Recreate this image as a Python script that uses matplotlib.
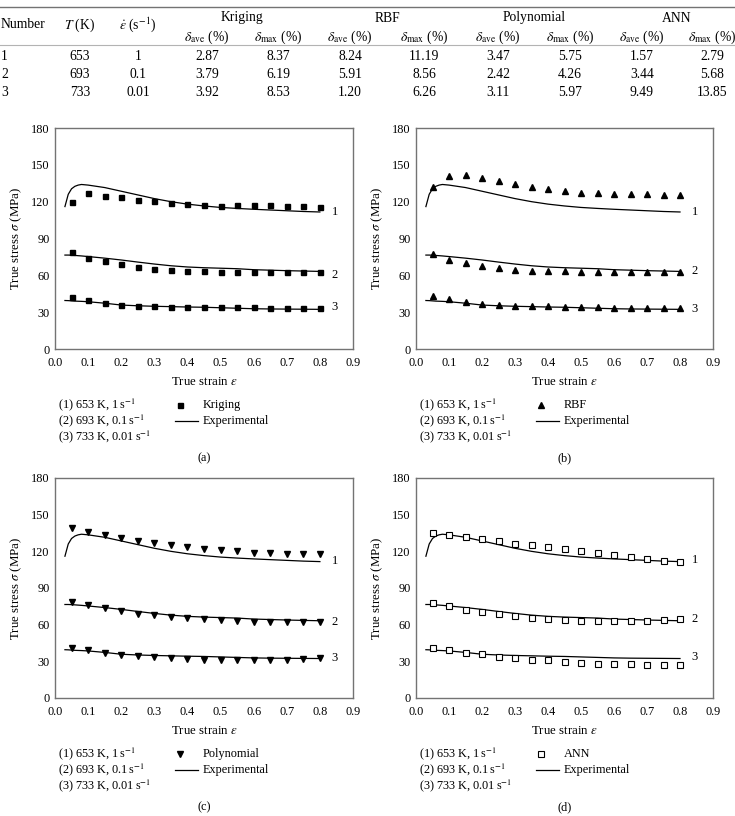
import matplotlib
matplotlib.use("Agg")
import matplotlib.pyplot as plt
from matplotlib.lines import Line2D
import numpy as np

plt.rcParams['font.family'] = ['Liberation Serif', 'DejaVu Serif']
plt.rcParams['mathtext.fontset'] = 'stix'

W, H = 735, 816

# ---- table data ----
numbers = ["1", "2", "3"]
temps = ["653", "693", "733"]
rates = ["1", "0.1", "0.01"]
methods = ["Kriging", "RBF", "Polynomial", "ANN"]
err_ave = [["2.87", "3.79", "3.92"],
           ["8.24", "5.91", "1.20"],
           ["3.47", "2.42", "3.11"],
           ["1.57", "3.44", "9.49"]]
err_max = [["8.37", "6.19", "8.53"],
           ["11.19", "8.56", "6.26"],
           ["5.75", "4.26", "5.97"],
           ["2.79", "5.68", "13.85"]]

# ---- experimental flow curves ----
strain_exp = [0.03, 0.04, 0.05, 0.06, 0.07, 0.08, 0.10, 0.15, 0.20, 0.25, 0.30,
              0.35, 0.40, 0.45, 0.50, 0.55, 0.60, 0.65, 0.70, 0.75, 0.80]
exp_1 = [116, 126, 130.5, 132.5, 133.5, 134, 133.5, 131.5, 128.5, 125.5, 122.5,
         120, 118, 116.5, 115.3, 114.5, 113.8, 113.2, 112.6, 112, 111.6]
exp_2 = [76.5, 76.5, 76.4, 76.2, 76.0, 75.8, 75.3, 74, 72.5, 70.8, 69.2,
         67.8, 66.8, 66.2, 65.8, 65.4, 64.6, 64.2, 63.8, 63.5, 63.2]
exp_3 = [39.5, 39.4, 39.2, 39.0, 38.9, 38.8, 38.5, 37.3, 35.8, 35.2, 34.8,
         34.5, 34.2, 34.0, 33.6, 33.2, 32.8, 32.6, 32.5, 32.4, 32.3]

# ---- predicted points ----
strain_pred = [0.05, 0.10, 0.15, 0.20, 0.25, 0.30, 0.35, 0.40,
               0.45, 0.50, 0.55, 0.60, 0.65, 0.70, 0.75, 0.80]
kriging_1 = [119.5, 127.3, 124.4, 123.5, 121.6, 120.3, 119.2, 118.1,
             117.6, 116.8, 117.3, 117.3, 117.0, 116.8, 116.2, 115.7]
kriging_2 = [78.7, 74.4, 71.4, 69.0, 66.5, 65.4, 64.3, 63.8,
             63.3, 62.7, 62.6, 62.5, 62.5, 62.5, 62.5, 62.5]
kriging_3 = [42.0, 39.6, 37.5, 36.1, 35.0, 34.8, 34.5, 34.5,
             34.2, 34.2, 33.9, 33.9, 33.7, 33.4, 33.7, 33.7]
rbf_1 = [131.7, 141.2, 142.0, 139.3, 136.6, 134.4, 132.2, 130.0,
         128.4, 127.3, 126.8, 126.5, 126.3, 126.0, 125.4, 125.7]
rbf_2 = [77.4, 72.8, 70.0, 67.9, 66.0, 64.6, 63.8, 63.5,
         63.3, 63.0, 63.0, 62.7, 62.4, 62.4, 62.4, 62.4]
rbf_3 = [42.9, 40.7, 38.0, 36.4, 35.6, 35.0, 34.8, 34.8,
         34.5, 34.2, 33.9, 33.7, 33.4, 33.4, 33.4, 33.4]
poly_1 = [138.7, 136.0, 133.2, 131.0, 128.6, 126.7, 125.0, 123.7,
          122.3, 121.3, 120.2, 119.0, 118.3, 118.0, 117.7, 117.5]
poly_2 = [78.3, 76.1, 74.0, 71.5, 69.0, 67.7, 66.0, 65.3,
          64.4, 63.9, 63.3, 62.5, 62.3, 62.3, 62.3, 62.3]
poly_3 = [40.8, 39.2, 37.2, 35.3, 34.3, 33.4, 32.6, 32.1,
          31.5, 31.3, 31.0, 31.3, 31.3, 31.5, 31.8, 32.6]
ann_1 = [135.2, 133.6, 131.7, 130.0, 128.2, 126.3, 124.9, 123.5,
         121.9, 120.0, 118.4, 117.0, 115.7, 114.0, 112.4, 111.1]
ann_2 = [77.4, 75.2, 72.2, 70.6, 68.7, 67.0, 65.7, 64.6,
         63.8, 63.3, 62.7, 62.7, 62.7, 63.0, 63.5, 64.3]
ann_3 = [40.7, 39.1, 37.2, 35.6, 33.9, 32.9, 31.5, 30.7,
         29.6, 28.8, 28.2, 27.7, 27.7, 27.1, 27.1, 27.1]

conditions = ["(1) 653\u2009K, 1\u2009s$^{-1}$",
              "(2) 693\u2009K, 0.1\u2009s$^{-1}$",
              "(3) 733\u2009K, 0.01\u2009s$^{-1}$"]
curve_ids = ["1", "2", "3"]
label_y = [[111.5, 60, 34], [111.3, 63.2, 32.6], [112, 62.5, 32.6], [112.7, 64.6, 33.4]]


def fx(px):
    return px / W


def fy(py):
    return 1 - py / H


fig = plt.figure(figsize=(W / 100, H / 100), dpi=100)

# ---- table ----
fs = 9.8
fig.add_artist(Line2D([0, 1], [fy(7), fy(7)], color='0.45', lw=1.0))
fig.add_artist(Line2D([0, 1], [fy(45), fy(45)], color='0.7', lw=0.8))
fig.text(fx(0.5), fy(25), "Number", ha='left', va='center', fontsize=fs)
fig.text(fx(80), fy(25), "$T$ (K)", ha='center', va='center', fontsize=fs)
fig.text(fx(138), fy(25), r"$\dot{\varepsilon}$ (s$^{-1}$)", ha='center', va='center', fontsize=fs)
col_x = [207, 278, 350, 424, 498, 570, 642, 712]
row_y = [56, 74, 92]
for m, name in enumerate(methods):
    xa, xm = col_x[2 * m], col_x[2 * m + 1]
    fig.text(fx((xa + xm) / 2), fy(18), name, ha='center', va='center', fontsize=fs)
    fig.text(fx(xa), fy(37), r"$\delta_{\rm ave}$ (%)", ha='center', va='center', fontsize=fs)
    fig.text(fx(xm), fy(37), r"$\delta_{\rm max}$ (%)", ha='center', va='center', fontsize=fs)
    for r in range(3):
        fig.text(fx(xa), fy(row_y[r]), err_ave[m][r], ha='center', va='center', fontsize=fs)
        fig.text(fx(xm), fy(row_y[r]), err_max[m][r], ha='center', va='center', fontsize=fs)
for r in range(3):
    fig.text(fx(1), fy(row_y[r]), numbers[r], ha='left', va='center', fontsize=fs)
    fig.text(fx(80), fy(row_y[r]), temps[r], ha='center', va='center', fontsize=fs)
    fig.text(fx(138), fy(row_y[r]), rates[r], ha='center', va='center', fontsize=fs)

# ---- panels ----
panels = [
    ("Kriging", "(a)", [kriging_1, kriging_2, kriging_3], dict(marker='s', ms=3.6, mfc='black', mec='black')),
    ("RBF", "(b)", [rbf_1, rbf_2, rbf_3], dict(marker='^', ms=4.8, mfc='black', mec='black')),
    ("Polynomial", "(c)", [poly_1, poly_2, poly_3], dict(marker='v', ms=4.8, mfc='black', mec='black')),
    ("ANN", "(d)", [ann_1, ann_2, ann_3], dict(marker='s', ms=4.5, mfc='white', mec='black', mew=0.8)),
]
lefts = [55, 416, 55, 416]
rights = [353, 713, 353, 713]
tops = [128, 128, 478, 478]
bottoms = [349, 349, 698, 698]

for i, (name, tag, preds, mstyle) in enumerate(panels):
    l, r, t, b = lefts[i], rights[i], tops[i], bottoms[i]
    ax = fig.add_axes([fx(l), fy(b), (r - l) / W, (b - t) / H])
    for exp in [exp_1, exp_2, exp_3]:
        ax.plot(strain_exp, exp, color='black', lw=0.9)
    for p in preds:
        ax.plot(strain_pred, p, linestyle='none', **mstyle)
    for k in range(3):
        ax.text(0.835, label_y[i][k], curve_ids[k], fontsize=9, va='center', ha='left')
    ax.set_xlim(0, 0.9)
    ax.set_ylim(0, 180)
    ax.set_xticks(np.arange(0, 0.91, 0.1))
    ax.set_xticklabels([f"{v:.1f}" for v in np.arange(0, 0.91, 0.1)])
    ax.set_yticks(range(0, 181, 30))
    ax.tick_params(length=0, labelsize=8.8, pad=4)
    ax.tick_params(axis='x', pad=6)
    for s in ax.spines.values():
        s.set_color('0.45')
        s.set_linewidth(1.0)
    ax.set_xlabel(r"True strain $\varepsilon$", fontsize=9.3, labelpad=5)
    ax.set_ylabel(r"True stress $\sigma$ (MPa)", fontsize=9.3, labelpad=5)

    # legend block below the panel
    tx = l + 3
    ly = b + 56
    for k in range(3):
        fig.text(fx(tx), fy(ly + 16 * k), conditions[k], ha='left', va='center', fontsize=8.8)
    mx = l + 125
    fig.add_artist(Line2D([fx(mx)], [fy(ly)], linestyle='none', **mstyle))
    fig.add_artist(Line2D([fx(mx - 5), fx(mx + 18)], [fy(ly + 16), fy(ly + 16)], color='black', lw=0.9))
    fig.text(fx(mx + 23), fy(ly), name, ha='left', va='center', fontsize=8.8)
    fig.text(fx(mx + 23), fy(ly + 16), "Experimental", ha='left', va='center', fontsize=8.8)
    fig.text(fx((l + r) / 2), fy(b + 109), tag, ha='center', va='center', fontsize=8.8)

fig.savefig("out.png", dpi=100)
